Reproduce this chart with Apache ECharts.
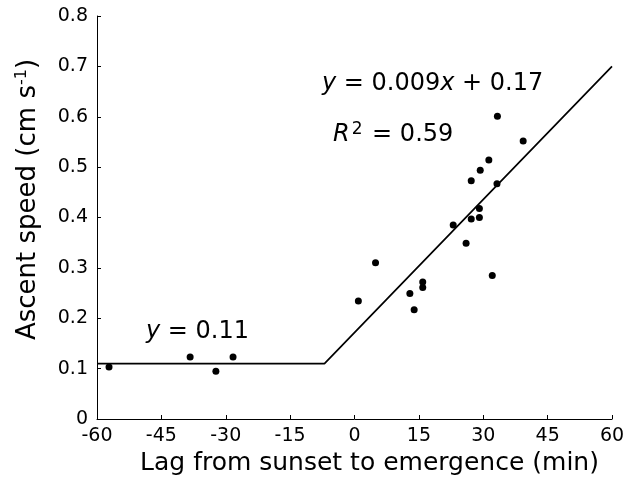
<!DOCTYPE html>
<html><head><meta charset="utf-8">
<script src="https://cdn.jsdelivr.net/npm/echarts@6/dist/echarts.min.js"></script>
<style>html,body{margin:0;padding:0;background:#fff}#c{width:636px;height:481px}</style>
</head><body><div id="c"></div>
<script>
var lagMin = [-57.2,-38.3,-32.3,-28.3,33.3,39.3,31.3,29.3,27.2,33.2,29.1,29.1,27.2,23.0,26.0,4.9,32.1,15.9,15.9,12.9,0.9,13.9];
var speed  = [0.103,0.123,0.095,0.123,0.601,0.552,0.514,0.494,0.473,0.467,0.418,0.400,0.397,0.385,0.349,0.310,0.285,0.272,0.261,0.249,0.234,0.217];
var fitX = [-60,-7,60];
var fitY = [0.11,0.11,0.70];
var xTicks = [-60,-45,-30,-15,0,15,30,45,60];
var yTicks = [0,0.1,0.2,0.3,0.4,0.5,0.6,0.7,0.8];

var pts = lagMin.map(function(x,i){return [x,speed[i]];});
var fit = fitX.map(function(x,i){return [x,fitY[i]];});
var F = '"DejaVu Sans", sans-serif';
var chart = echarts.init(document.getElementById('c'));
chart.setOption({
  animation:false,
  backgroundColor:'#fff',
  grid:{left:97,right:24,top:16,bottom:61,containLabel:false},
  xAxis:{type:'value',min:-60,max:60,interval:15,
    axisLine:{onZero:false,lineStyle:{color:'#000',width:1}},
    axisTick:{inside:true,length:4,lineStyle:{color:'#000'}},
    splitLine:{show:false},
    axisLabel:{color:'#000',fontSize:19,fontFamily:F,margin:8,
      formatter:function(v){return xTicks.indexOf(v)>=0?String(v):'';}},
    name:'Lag from sunset to emergence (min)',nameLocation:'middle',nameGap:32,
    nameTextStyle:{color:'#000',fontSize:25,fontFamily:F,padding:[0,0,0,30]}},
  yAxis:{type:'value',min:0,max:0.8,interval:0.1,
    axisLine:{show:true,onZero:false,lineStyle:{color:'#000',width:1}},
    axisTick:{show:true,inside:true,length:4,lineStyle:{color:'#000'}},
    splitLine:{show:false},
    axisLabel:{color:'#000',fontSize:19,fontFamily:F,margin:9,
      formatter:function(v){var r=Math.round(v*10)/10;return yTicks.indexOf(r)>=0?String(r):'';}},
    name:'{a|Ascent speed (cm s}{s|-1}{a|)}',nameLocation:'middle',nameGap:55,
    nameTextStyle:{color:'#000',fontFamily:F,padding:[0,0,0,36],
      rich:{a:{fontSize:26,fontFamily:F,color:'#000'},s:{fontSize:16,fontFamily:F,color:'#000',verticalAlign:'top',padding:[0,0,12,0]}}}},
  series:[
    {type:'line',data:fit,symbol:'none',lineStyle:{color:'#000',width:1.7},z:2},
    {type:'scatter',data:pts,symbolSize:7,itemStyle:{color:'#000',opacity:1},z:3}
  ],
  graphic:[
    {type:'text',x:146,y:332,style:{text:'{i|y} = 0.11',font:'24px '+F,fill:'#000',verticalAlign:'middle',
      rich:{i:{fontStyle:'italic',fontSize:24,fontFamily:F,fill:'#000'}}}},
    {type:'text',x:322,y:84,style:{text:'{i|y} = 0.009{i|x} + 0.17',font:'24px '+F,fill:'#000',verticalAlign:'middle',
      rich:{i:{fontStyle:'italic',fontSize:24,fontFamily:F,fill:'#000'}}}},
    {type:'text',x:333,y:135,style:{text:'{i|R}{s|2} = 0.59',font:'24px '+F,fill:'#000',verticalAlign:'middle',
      rich:{i:{fontStyle:'italic',fontSize:24,fontFamily:F,fill:'#000'},s:{fontSize:17,fontFamily:F,fill:'#000',verticalAlign:'top',padding:[0,2,10,2]}}}}
  ]
});
</script></body></html>
